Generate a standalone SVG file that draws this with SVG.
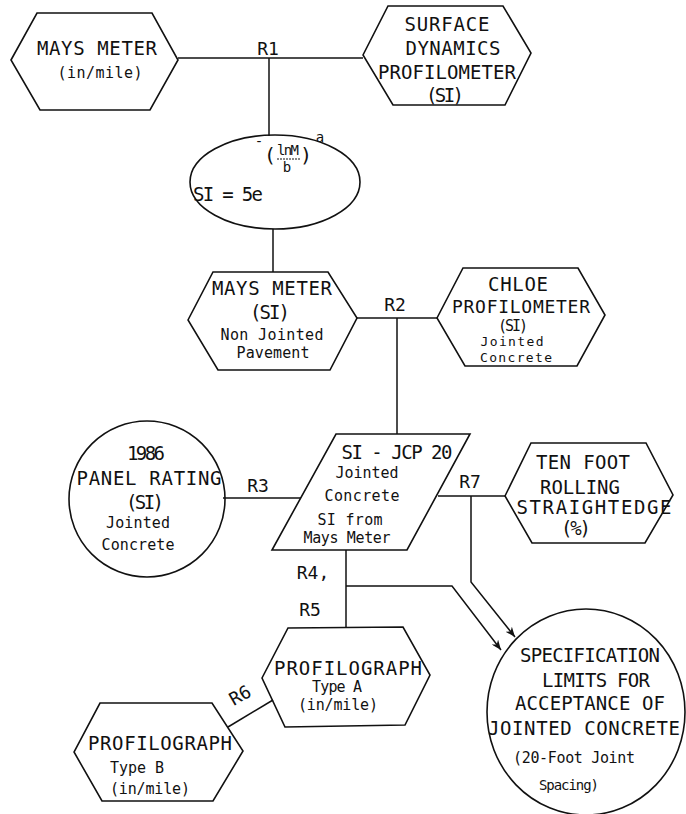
<svg xmlns="http://www.w3.org/2000/svg" width="686" height="814" viewBox="0 0 686 814">
<style>
.s{fill:none;stroke:#111;stroke-width:1.6;stroke-linejoin:miter}
.c{stroke:#111;stroke-width:1.5;fill:none}
text{font-family:"DejaVu Sans Mono","Liberation Mono",monospace;fill:#111;text-anchor:middle;dominant-baseline:central}
.u{font-size:19px}
.l{font-size:15px}
.r{font-size:18px}
.f{font-size:14px}
</style>
<defs>
<marker id="ah" markerUnits="userSpaceOnUse" markerWidth="10" markerHeight="8" refX="10" refY="4" orient="auto">
<path d="M0,0 L10,4 L0,8 L3,4 z" fill="#111"/>
</marker>
</defs>
<rect width="686" height="814" fill="#fff"/>

<g id="connectors">
<path class="c" d="M178,58 H363"/>
<path class="c" d="M269,58 V136"/>
<path class="c" d="M273,229 V272"/>
<path class="c" d="M357,318 H437"/>
<path class="c" d="M397,318 V434"/>
<path class="c" d="M223,498 H301"/>
<path class="c" d="M438,496 H505"/>
<path class="c" d="M471,496 V582 L515,637" marker-end="url(#ah)"/>
<path class="c" d="M346,550 V628"/>
<path class="c" d="M346,586 H452 L501,650" marker-end="url(#ah)"/>
<path class="c" d="M228,727 L273,700"/>
<text class="r" x="268" y="48">R1</text>
<text class="r" x="395" y="304">R2</text>
<text class="r" x="258" y="485">R3</text>
<text class="r" x="470" y="481">R7</text>
<text class="r" x="313" y="572">R4,</text>
<text class="r" x="310" y="609">R5</text>
<text class="r" x="240" y="695" transform="rotate(-30 240 695)">R6</text>
</g>

<g id="mays-meter-in">
<polygon class="s" points="11,60 37,13 152,13 178,60 150,110 40,110"/>
<text class="u" x="97" y="48" textLength="120">MAYS METER</text>
<text class="l" x="100" y="73" textLength="85">(in/mile)</text>
</g>

<g id="surface-dynamics">
<polygon class="s" points="363,55 388,6 503,6 531,53 505,105 393,105"/>
<text class="u" x="447" y="24" textLength="85">SURFACE</text>
<text class="u" x="453" y="48" textLength="95">DYNAMICS</text>
<text class="u" x="447" y="72" textLength="138">PROFILOMETER</text>
<text class="u" x="445" y="95" textLength="38">(SI)</text>
</g>

<g id="formula">
<ellipse class="s" cx="275" cy="182" rx="85" ry="47"/>
<text x="228" y="194" style="font-size:19px" textLength="70">SI = 5e</text>
<text class="f" x="259" y="141">-</text>
<text x="270" y="155" style="font-size:20px">(</text>
<text class="f" x="288" y="150" textLength="22">lnM</text>
<line x1="277" y1="159" x2="300" y2="159" stroke="#111" stroke-width="1" stroke-dasharray="2,1"/>
<text class="f" x="287" y="167">b</text>
<text x="306" y="155" style="font-size:20px">)</text>
<text class="f" x="320" y="137">a</text>
</g>

<g id="mays-meter-si">
<polygon class="s" points="188,320 213,272 328,272 357,318 330,370 218,370"/>
<text class="u" x="272" y="288" textLength="120">MAYS METER</text>
<text class="u" x="270" y="312" textLength="40">(SI)</text>
<text class="l" x="272" y="335" textLength="103">Non Jointed</text>
<text class="l" x="273" y="353" textLength="73">Pavement</text>
</g>

<g id="chloe">
<polygon class="s" points="437,318 463,268 578,268 605,315 577,366 465,366"/>
<text class="u" x="518" y="284" textLength="60">CHLOE</text>
<text x="521" y="306" style="font-size:18px" textLength="138">PROFILOMETER</text>
<text x="513" y="325.5" style="font-size:15px" textLength="30">(SI)</text>
<text x="512" y="341.5" style="font-size:13px" textLength="63">Jointed</text>
<text x="516" y="357.5" style="font-size:13px" textLength="72">Concrete</text>
</g>

<g id="si-jcp">
<polygon class="s" points="336,434 470,434 407,550 272,550"/>
<text class="u" x="397" y="452" textLength="111">SI - JCP 20</text>
<text class="l" x="367" y="473" textLength="63">Jointed</text>
<text class="l" x="362" y="496" textLength="75">Concrete</text>
<text class="l" x="350" y="520" textLength="65">SI from</text>
<text class="l" x="347" y="538" textLength="87">Mays Meter</text>
</g>

<g id="panel-rating">
<circle class="s" cx="147" cy="499" r="78"/>
<text class="u" x="146" y="453" textLength="38">1986</text>
<text class="u" x="149" y="478" textLength="145">PANEL RATING</text>
<text class="u" x="145" y="502" textLength="38">(SI)</text>
<text class="l" x="138" y="523" textLength="64">Jointed</text>
<text class="l" x="138" y="545" textLength="73">Concrete</text>
</g>

<g id="ten-foot">
<polygon class="s" points="505,496 531,443 646,443 673,495 645,543 532,543"/>
<text class="u" x="583" y="462" textLength="94">TEN FOOT</text>
<text class="u" x="580" y="487" textLength="80">ROLLING</text>
<text class="u" x="594" y="507" textLength="155">STRAIGHTEDGE</text>
<text class="u" x="576" y="528" textLength="30">(%)</text>
</g>

<g id="specification">
<ellipse class="s" cx="586" cy="712" rx="99" ry="103"/>
<text class="u" x="590" y="655" textLength="140">SPECIFICATION</text>
<text class="u" x="596" y="680" textLength="108">LIMITS FOR</text>
<text class="u" x="590" y="703" textLength="150">ACCEPTANCE OF</text>
<text class="u" x="584" y="728" textLength="192">JOINTED CONCRETE</text>
<text class="l" x="574" y="758" textLength="122">(20-Foot Joint</text>
<text x="569" y="785" style="font-size:14px" textLength="60">Spacing)</text>
</g>

<g id="profilograph-a">
<polygon class="s" points="262,678 288,628 403,627 430,675 405,725 285,727"/>
<text class="u" x="348" y="668" textLength="148">PROFILOGRAPH</text>
<text class="l" x="337" y="687" textLength="50">Type A</text>
<text class="l" x="338" y="705" textLength="80">(in/mile)</text>
</g>

<g id="profilograph-b">
<polygon class="s" points="74,752 100,703 212,703 243,751 213,801 102,801"/>
<text class="u" x="160" y="743" textLength="144">PROFILOGRAPH</text>
<text class="l" x="137" y="768">Type B</text>
<text class="l" x="150" y="789" textLength="80">(in/mile)</text>
</g>
</svg>
